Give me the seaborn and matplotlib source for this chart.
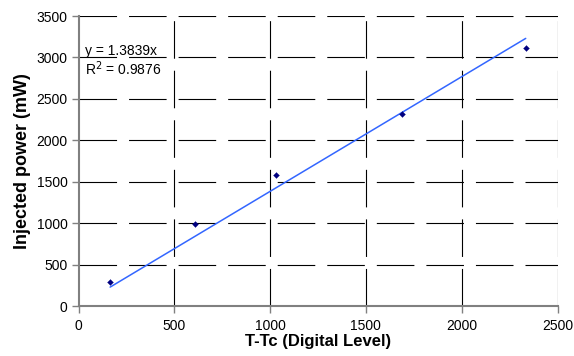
import matplotlib
matplotlib.use("Agg")
import matplotlib.pyplot as plt
import numpy as np
import pandas as pd
import seaborn as sns

# measured points
t_tc = [165, 608, 1031, 1690, 2334]
power_mw = [295, 985, 1580, 2312, 3116]

# linear trendline through origin (Excel fit)
slope = 1.3839
r_squared = 0.9876

x_ticks = [0, 500, 1000, 1500, 2000, 2500]
y_ticks = [0, 500, 1000, 1500, 2000, 2500, 3000, 3500]

df = pd.DataFrame({"T-Tc": t_tc, "Power": power_mw})
trend = pd.DataFrame({"T-Tc": [min(t_tc), max(t_tc)]})
trend["Power"] = slope * trend["T-Tc"]

sns.set_theme(style="white")
plt.rcParams["font.family"] = ["Liberation Sans", "DejaVu Sans"]
plt.rcParams["text.color"] = "black"
plt.rcParams["axes.labelcolor"] = "black"
plt.rcParams["xtick.labelcolor"] = "black"
plt.rcParams["ytick.labelcolor"] = "black"

fig = plt.figure(figsize=(5.74, 3.56), dpi=100)
ax = fig.add_axes([0.1368, 0.1404, 0.8345, 0.8146])

sns.lineplot(data=trend, x="T-Tc", y="Power", color="#3366FF",
             linewidth=1.1, ax=ax, zorder=3)
sns.scatterplot(data=df, x="T-Tc", y="Power", marker="D", s=9,
                color="#000080", edgecolor="#000080", ax=ax, zorder=4)

ax.set_xlim(0, 2500)
ax.set_ylim(0, 3500)
ax.set_xticks(x_ticks)
ax.set_yticks(y_ticks)

dash = (0, (33.8, 10.8))
for x in x_ticks[1:]:
    ax.axvline(x, color="black", linewidth=0.8, linestyle=dash, zorder=1)
for y in y_ticks[1:]:
    ax.axhline(y, color="black", linewidth=0.8, linestyle=dash, zorder=1)

for side in ["top", "right"]:
    ax.spines[side].set_visible(False)
for side in ["left", "bottom"]:
    ax.spines[side].set_color("#808080")
    ax.spines[side].set_linewidth(1.5)

ax.tick_params(axis="both", direction="out", length=5, width=1,
               color="#808080", labelsize=10, pad=3,
               bottom=True, left=True)
ax.tick_params(axis="x", pad=4)

ax.set_xlabel("T-Tc (Digital Level)", fontsize=12, fontweight="bold", labelpad=1)
ax.set_ylabel("Injected power (mW)", fontsize=13, fontweight="bold", labelpad=4)

ax.text(34, 3028, f"y = {slope}x", fontsize=10, va="baseline")
ax.text(34, 2787, f"R$^2$ = {r_squared}", fontsize=10, va="baseline")

fig.savefig("out.png", dpi=100)
